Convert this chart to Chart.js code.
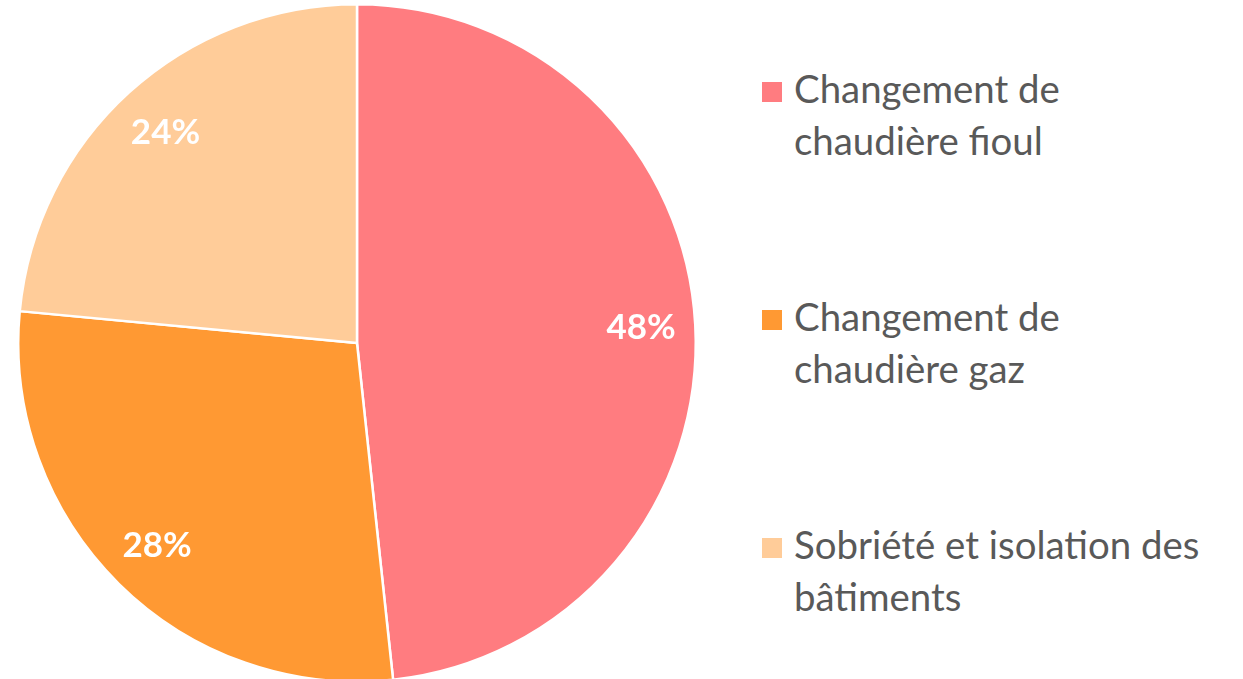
<!DOCTYPE html>
<html>
<head>
<meta charset="utf-8">
<script src="https://cdn.jsdelivr.net/npm/chart.js@4.4.1/dist/chart.umd.min.js"></script>
<style>
  html, body { margin: 0; padding: 0; background: #fff; }
  body { width: 1243px; height: 679px; position: relative; overflow: hidden; font-family: Lato, sans-serif; }
  #pieBox { position: absolute; left: 0; top: 3px; width: 714px; height: 680px; }
  #legend { position: absolute; left: 762px; top: 62px; }
  .item { position: relative; height: 228px; }
  .swatch { position: absolute; left: 0; top: 20px; width: 20px; height: 20px; }
  .text { position: absolute; left: 32px; top: 0; font-size: 38.4px; line-height: 52px; color: #595959; white-space: nowrap; }
</style>
</head>
<body>
<div id="pieBox"><canvas id="pie"></canvas></div>
<div id="legend"></div>
<script>
// data
const categories = [
  ['Changement de', 'chaudière fioul'],
  ['Changement de', 'chaudière gaz'],
  ['Sobriété et isolation des', 'bâtiments']
];
const shares = [48.3, 28.2, 23.5];
const sliceColors = ['#FF7C80', '#FF9933', '#FFCC99'];

// legend on the right, plain html
const legend = document.getElementById('legend');
categories.forEach((lines, i) => {
    const item = document.createElement('div');
    item.className = 'item';
    item.innerHTML = '<div class="swatch" style="background:' + sliceColors[i] + '"></div>' +
        '<div class="text">' + lines.join('<br>') + '</div>';
    legend.appendChild(item);
});

// percent labels inside the slices
const pctLabels = {
    id: 'pctLabels',
    afterDatasetsDraw(chart) {
        const ctx = chart.ctx;
        const meta = chart.getDatasetMeta(0);
        const total = shares.reduce((a, b) => a + b, 0);
        ctx.save();
        ctx.fillStyle = '#FFFFFF';
        ctx.font = 'bold 35px Lato, sans-serif';
        ctx.textAlign = 'center';
        ctx.textBaseline = 'middle';
        meta.data.forEach((arc, i) => {
            const p = arc.getProps(['x', 'y', 'startAngle', 'endAngle', 'outerRadius'], true);
            const mid = (p.startAngle + p.endAngle) / 2;
            const r = p.outerRadius * 0.84;
            const txt = Math.round(shares[i] / total * 100) + '%';
            ctx.fillText(txt, p.x + Math.cos(mid) * r, p.y + Math.sin(mid) * r);
        });
        ctx.restore();
    }
};

new Chart(document.getElementById('pie'), {
    type: 'pie',
    data: {
        labels: categories.map(l => l.join(' ')),
        datasets: [{
            data: shares,
            backgroundColor: sliceColors,
            borderColor: '#FFFFFF',
            borderWidth: 2.5
        }]
    },
    options: {
        responsive: true,
        maintainAspectRatio: false,
        animation: false,
        layout: { padding: 0 },
        plugins: {
            legend: { display: false },
            tooltip: { enabled: false }
        }
    },
    plugins: [pctLabels]
});
</script>
</body>
</html>
